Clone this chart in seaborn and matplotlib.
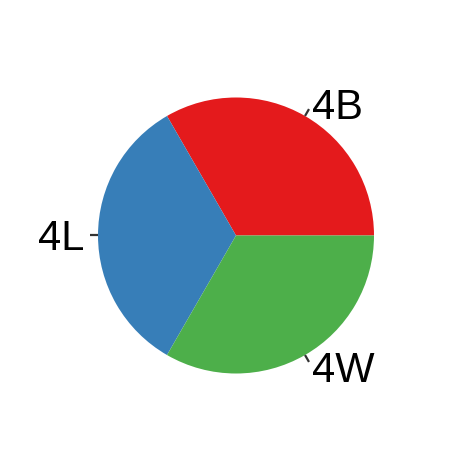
import numpy as np
import matplotlib
matplotlib.use("Agg")
import matplotlib.pyplot as plt
import seaborn as sns

# data
categories = ["4B", "4L", "4W"]
counts = [1, 1, 1]

sns.set_style("white")
plt.rcParams['font.family'] = ['Liberation Sans', 'DejaVu Sans']

colors = sns.color_palette("Set1", 3)

fig = plt.figure(figsize=(4.72, 4.72), dpi=100)
ax = fig.add_axes([0, 0, 1, 1])

R = 138
ax.pie(counts, colors=colors, startangle=0, counterclock=True, radius=R,
       wedgeprops=dict(linewidth=0))

# axis ticks and labels at slice midpoints
total = sum(counts)
start = 0
for cat, c in zip(categories, counts):
    mid = np.deg2rad(start + 360 * c / total / 2)
    start += 360 * c / total
    ax.plot([R * np.cos(mid), (R + 8) * np.cos(mid)],
            [R * np.sin(mid), (R + 8) * np.sin(mid)],
            color="#333333", lw=1.6, solid_capstyle="butt")
    r_txt = 152
    ha = "left" if np.cos(mid) > 0.01 else ("right" if np.cos(mid) < -0.01 else "center")
    # baseline placed so the cap height is centred on the tick direction
    ax.text(r_txt * np.cos(mid), r_txt * np.sin(mid) - 15, cat, ha=ha, va="baseline",
            fontsize=30, color="black", family=['Liberation Sans', 'DejaVu Sans'])

ax.set_xlim(-236, 236)
ax.set_ylim(-236.5, 235.5)
ax.set_aspect("equal")
ax.axis("off")

fig.savefig("out.png", dpi=100)
